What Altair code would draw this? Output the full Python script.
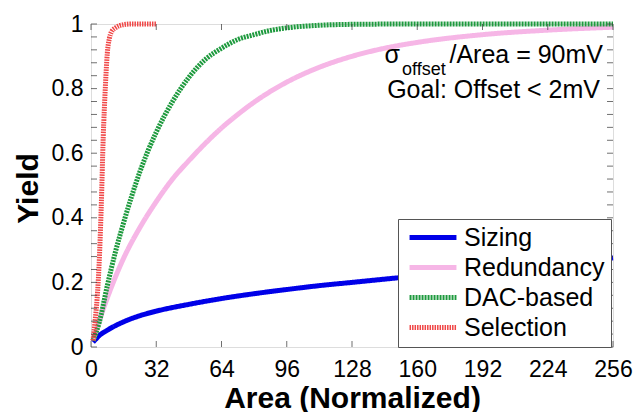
import altair as alt
import pandas as pd

# ---------------- data ----------------
series_names = ["Sizing", "Redundancy", "DAC-based", "Selection"]
series_colors = ["#0000e8", "#f6b6e6", "#1e9a3e", "#f04646"]

sizing_x = [1, 2, 4, 8, 16, 24, 32, 48, 64, 80, 96, 112, 128, 160, 192, 224, 256]
sizing_y = [0.015, 0.022, 0.035, 0.052, 0.078, 0.097, 0.111, 0.132, 0.15, 0.165,
            0.178, 0.19, 0.2, 0.22, 0.238, 0.257, 0.276]

redundancy_x = [1, 4, 8, 16, 24, 32, 40, 48, 56, 64, 72, 80, 96, 112, 128, 144, 160,
                192, 224, 256]
redundancy_y = [0.02, 0.08, 0.152, 0.275, 0.37, 0.45, 0.52, 0.577, 0.63, 0.678, 0.72,
                0.758, 0.82, 0.866, 0.9, 0.925, 0.943, 0.967, 0.981, 0.99]

dac_x = [1, 4, 8, 12, 16, 20, 24, 28, 32, 40, 48, 56, 64, 72, 80, 88, 96, 112, 128,
         160, 192, 224, 256]
dac_y = [0.02, 0.075, 0.19, 0.295, 0.385, 0.468, 0.543, 0.608, 0.665, 0.76, 0.835,
         0.89, 0.925, 0.952, 0.967, 0.98, 0.988, 0.996, 0.999, 1.0, 1.0, 1.0, 1.0]

selection_x = [1, 2, 3, 4, 5, 6, 7, 8, 9, 10, 12, 14, 16, 20, 24, 28, 32]
selection_y = [0.02, 0.08, 0.15, 0.26, 0.43, 0.65, 0.8, 0.91, 0.955, 0.975, 0.988,
               0.995, 0.998, 1.0, 1.0, 1.0, 1.0]

x_tick_values = [0, 32, 64, 96, 128, 160, 192, 224, 256]
y_label_values = [0, 0.2, 0.4, 0.6, 0.8, 1]
y_minor_values = [0, 0.04, 0.08, 0.12, 0.16, 0.2, 0.24, 0.28, 0.32, 0.36, 0.4, 0.44,
                  0.48, 0.52, 0.56, 0.6, 0.64, 0.68, 0.72, 0.76, 0.8, 0.84, 0.88,
                  0.92, 0.96, 1.0]

annot_main = "/Area = 90mV"
annot_sigma = "σ"
annot_sub = "offset"
annot_goal = "Goal: Offset < 2mV"

# ---------------- build table ----------------
rows = []
for name, xs, ys in [("Sizing", sizing_x, sizing_y),
                     ("Redundancy", redundancy_x, redundancy_y),
                     ("DAC-based", dac_x, dac_y),
                     ("Selection", selection_x, selection_y)]:
    for xv, yv in zip(xs, ys):
        rows.append({"series": name, "area": xv, "yield": yv})
df = pd.DataFrame(rows)

FONT = "Liberation Sans"
x_scale = alt.Scale(domain=[0, 256], nice=False, zero=False)
y_scale = alt.Scale(domain=[0, 1], nice=False)

legend = alt.Legend(
    title=None, orient="none", legendX=307, legendY=195,
    labelFontSize=25, labelFont=FONT, labelColor="#000",
    symbolType="stroke", symbolStrokeWidth=5, symbolSize=2200, symbolOffset=3,
    clipHeight=25, rowPadding=4, labelOffset=5, padding=6,
    strokeColor="#555", fillColor="white", labelLimit=300,
)

lines = alt.Chart(df).mark_line(strokeWidth=5, interpolate="monotone").encode(
    x=alt.X("area:Q", scale=x_scale,
            axis=alt.Axis(values=x_tick_values, title="Area (Normalized)", ticks=False,
                          domain=False, grid=False, labelFontSize=23, labelFont=FONT,
                          labelColor="#000", labelPadding=11, titleFontSize=30,
                          titleFont=FONT, titleFontWeight="bold", titleColor="#000",
                          titleY=60, titleBaseline="alphabetic", labelFlush=False)),
    y=alt.Y("yield:Q", scale=y_scale,
            axis=alt.Axis(values=y_label_values, format="~g", title="Yield", ticks=False,
                          domain=False, grid=False, labelFontSize=23, labelFont=FONT,
                          labelColor="#000", labelPadding=8, titleFontSize=30,
                          titleFont=FONT, titleFontWeight="bold", titleColor="#000",
                          titleX=-54, titleY=164, titleBaseline="alphabetic",
                          labelFlush=False)),
    color=alt.Color("series:N", scale=alt.Scale(domain=series_names, range=series_colors),
                    legend=legend, sort=series_names),
    strokeDash=alt.StrokeDash("series:N",
                              scale=alt.Scale(domain=series_names,
                                              range=[[1, 0], [1, 0], [2, 1], [1.5, 1]]),
                              legend=legend, sort=series_names),
)

# inward tick marks (Matlab-like box axes)
xt = pd.DataFrame({"t": x_tick_values})
ym = pd.DataFrame({"t": y_minor_values})
tick_color = "#333"
xb = alt.Chart(xt).mark_tick(orient="vertical", size=6, thickness=1, color=tick_color,
                             yOffset=-3).encode(x=alt.X("t:Q", scale=x_scale), y=alt.datum(0))
xtop = alt.Chart(xt).mark_tick(orient="vertical", size=6, thickness=1, color=tick_color,
                               yOffset=3).encode(x=alt.X("t:Q", scale=x_scale), y=alt.datum(1))
yl = alt.Chart(ym).mark_tick(orient="horizontal", size=6, thickness=1, color=tick_color,
                             xOffset=3).encode(y=alt.Y("t:Q", scale=y_scale), x=alt.datum(0))
yr = alt.Chart(ym).mark_tick(orient="horizontal", size=6, thickness=1, color=tick_color,
                             xOffset=-3).encode(y=alt.Y("t:Q", scale=y_scale), x=alt.datum(256))

one = pd.DataFrame({"k": [0]})
t_sigma = alt.Chart(one).mark_text(text=annot_sigma, fontSize=25, font=FONT, align="right",
                                   baseline="alphabetic", color="#000").encode(
    x=alt.value(309), y=alt.value(39))
t_sub = alt.Chart(one).mark_text(text=annot_sub, fontSize=18, font=FONT, align="left",
                                 baseline="alphabetic", color="#000").encode(
    x=alt.value(311), y=alt.value(51))
t_main = alt.Chart(one).mark_text(text=annot_main, fontSize=25, font=FONT, align="right",
                                  baseline="alphabetic", color="#000").encode(
    x=alt.value(512), y=alt.value(39))
t_goal = alt.Chart(one).mark_text(text=annot_goal, fontSize=25, font=FONT, align="right",
                                  baseline="alphabetic", color="#000").encode(
    x=alt.value(509), y=alt.value(74))

chart = alt.layer(lines, xb, xtop, yl, yr, t_sigma, t_sub, t_main, t_goal).properties(
    width=522, height=323,
    autosize=alt.AutoSizeParams(type="none"),
    padding={"left": 91, "top": 24, "right": 22, "bottom": 65},
    background="white",
).configure_view(stroke="#333", strokeWidth=1).configure(font=FONT)

chart.save("out.html", embed_options={"renderer": "svg", "actions": False})
